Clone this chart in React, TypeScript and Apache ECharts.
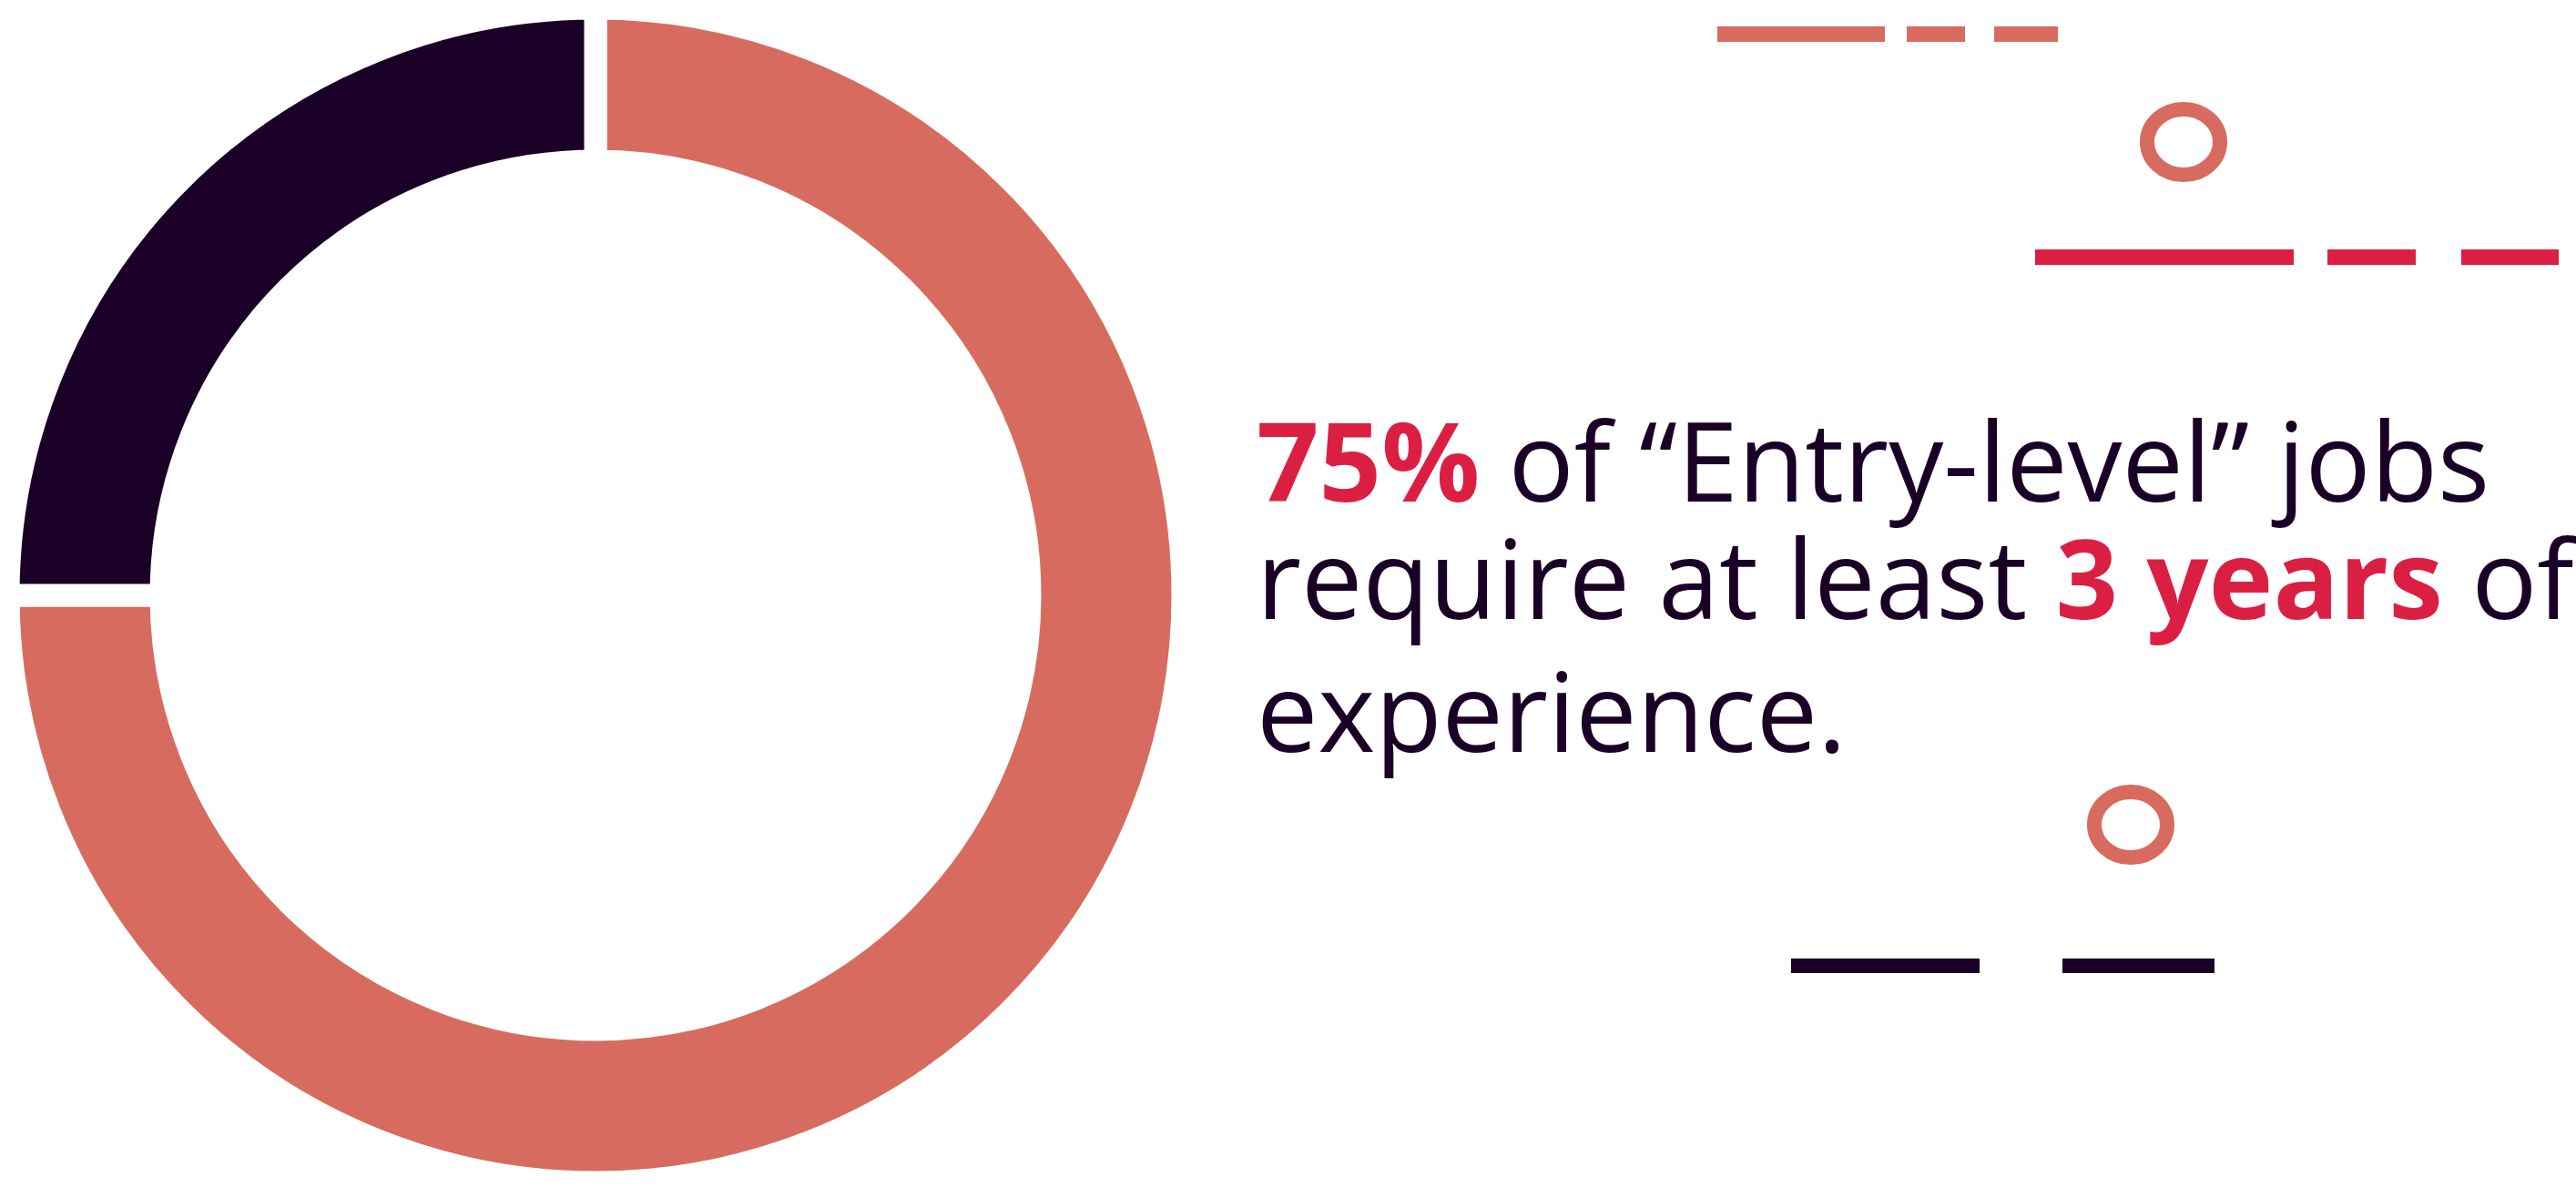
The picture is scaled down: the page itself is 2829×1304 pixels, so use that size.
import React, { useEffect, useRef } from "react";
import * as echarts from "echarts";

// Data
const categories = ["Require at least 3 years of experience", "Other entry-level jobs"];
const values = [75, 25];
const sliceColors = ["#D86B5F", "#1A0026"];

// Headline text lines (rich-text markup: {b|...} = bold red highlight)
const textLines = [
  "{b|75%}{n| of “Entry-level” jobs}",
  "{n|require at least }{b|3 years}{n| of}",
  "{n|experience.}",
];

const DARK = "#1A0026";
const CORAL = "#D86B5F";
const RED = "#DB1F42";

export default function App() {
  const ref = useRef<HTMLDivElement>(null);

  useEffect(() => {
    if (!ref.current) return;
    const chart = echarts.init(ref.current, undefined, { renderer: "svg" });

    const baselines = [547, 676, 822];
    const fontSize = 120;
    const rich = {
      n: { fontFamily: "Open Sans", fontSize, fill: DARK, fontWeight: "normal" as const },
      b: { fontFamily: "Open Sans", fontSize, fill: RED, fontWeight: "bold" as const },
    };

    const textEls = textLines.map((t, i) => ({
      type: "text",
      x: 1380,
      y: baselines[i] - 43,
      silent: true,
      style: {
        text: t,
        rich,
        fill: DARK,
        fontFamily: "Open Sans",
        fontSize,
        align: "left",
        verticalAlign: "middle",
      },
    }));

    const dashRect = (x1: number, x2: number, y1: number, y2: number, color: string) => ({
      type: "rect",
      silent: true,
      shape: { x: x1, y: y1, width: x2 - x1, height: y2 - y1 },
      style: { fill: color },
    });

    const ellipse = (cx: number, cy: number, color: string) => ({
      type: "ellipse",
      silent: true,
      shape: { cx, cy, rx: 40, ry: 36 },
      style: { fill: "none", stroke: color, lineWidth: 16 },
    });

    chart.setOption({
      animation: false,
      backgroundColor: "#ffffff",
      series: [
        {
          type: "pie",
          center: [654, 654],
          radius: [477, 645],
          startAngle: 90,
          clockwise: true,
          silent: true,
          label: { show: false },
          labelLine: { show: false },
          itemStyle: { borderColor: "#ffffff", borderWidth: 25 },
          data: categories.map((name, i) => ({
            name,
            value: values[i],
            itemStyle: { color: sliceColors[i] },
          })),
        },
      ],
      graphic: [
        dashRect(1886, 2070, 29, 46, CORAL),
        dashRect(2094, 2158, 29, 46, CORAL),
        dashRect(2190, 2260, 29, 46, CORAL),
        ellipse(2398, 156, CORAL),
        dashRect(2235, 2519, 274, 291, RED),
        dashRect(2556, 2653, 274, 291, RED),
        dashRect(2703, 2810, 274, 291, RED),
        ellipse(2340, 906, CORAL),
        dashRect(1967, 2174, 1053, 1069, DARK),
        dashRect(2265, 2432, 1053, 1069, DARK),
        ...textEls,
      ],
    });

    return () => chart.dispose();
  }, []);

  return (
    <div
      ref={ref}
      style={{ position: "absolute", left: 0, top: 0, width: 2829, height: 1304 }}
    />
  );
}
